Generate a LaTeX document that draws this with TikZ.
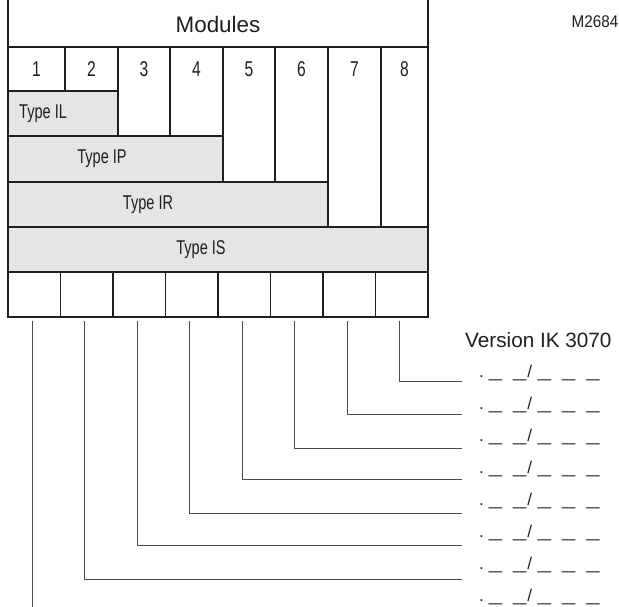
\documentclass[tikz,border=0pt]{standalone}
\usepackage{fontspec}
\setmainfont{Liberation Sans}
\usetikzlibrary{calc}

\tikzset{every node/.style={inner sep=0pt, text=inkcol}}
\tikzset{
  frame/.style={line width=1.9bp, draw=inkcol},
  cellline/.style={line width=1.5bp, draw=inkcol},
  cellbox/.style={draw=inkcol, line width=1.5bp, minimum width=52.5bp, minimum height=45bp},
  wire/.style={line width=1bp, draw=wirecol},
  codelabel/.style={anchor=base west, font=\fontsize{17}{19}\selectfont}
}
% Condensed type and blanks of the version code.
\newcommand{\cnd}[1]{\scalebox{0.73}[1]{#1}}
\newcommand{\blank}{\scalebox{1.4}[1]{\_}}
\newcommand{\versioncode}{.\hspace{5bp}\blank\hspace{11bp}\blank\hspace{1bp}/\hspace{6bp}\blank\hspace{11bp}\blank\hspace{11bp}\blank}

\begin{document}
\begin{tikzpicture}[x=1bp, y=-1bp]
  % Bounding box (original size).
  \path[use as bounding box] (0,0) rectangle (619,607);

  \colorlet{inkcol}{black!88}
  \colorlet{wirecol}{black!70}
  \colorlet{fillcol}{black!10}

  % Grey type bands.
  \fill[fillcol] (8,91) rectangle (118,136);
  \fill[fillcol] (8,136) rectangle (223,182);
  \fill[fillcol] (8,182) rectangle (328,227);
  \fill[fillcol] (8,227) rectangle (428,272);

  % Horizontal rules.
  \draw[cellline] (8,47) -- (428,47);
  \draw[cellline] (8,91) -- (118,91);
  \draw[cellline] (8,136) -- (223,136);
  \draw[cellline] (8,182) -- (328,182);
  \draw[cellline] (8,227) -- (428,227);
  \draw[cellline] (8,272) -- (428,272);

  % Module columns.
  \draw[cellline] (65,47) -- (65,91);
  \draw[cellline] (118,47) -- (118,136);
  \draw[cellline] (170,47) -- (170,136);
  \draw[cellline] (223,47) -- (223,182);
  \draw[cellline] (275,47) -- (275,182);
  \draw[cellline] (328,47) -- (328,227);
  \draw[cellline] (381,47) -- (381,227);

  % Bottom row of cells.
  \foreach \i in {1,...,8}
    \node[cellbox] (c\i) at ({8+52.5*(\i-0.5)},294.5) {};

  % Outer frame.
  \draw[frame] (8,0) -- (8,317) -- (428,317) -- (428,0);

  % Texts.
  \node[font=\fontsize{22.5}{24}\selectfont] (modules) at (218,24) {Modules};
  \node[font=\fontsize{17}{19}\selectfont] (ref) at (595,22) {\scalebox{0.9}[1]{M2684}};
  \foreach \n/\xx in {1/36.5,2/91.5,3/144,4/196.5,5/249,6/301.5,7/354.5,8/404.5}
    \node[font=\fontsize{21.5}{23}\selectfont] (m\n) at (\xx,69) {\cnd{\n}};
  \node[font=\fontsize{20}{22}\selectfont, anchor=west] (typeIL) at (19,113.5) {\cnd{Type IL}};
  \node[font=\fontsize{20}{22}\selectfont] (typeIP) at (102,159) {\cnd{Type IP}};
  \node[font=\fontsize{20}{22}\selectfont] (typeIR) at (148,204.5) {\cnd{Type IR}};
  \node[font=\fontsize{20}{22}\selectfont] (typeIS) at (201,249.5) {\cnd{Type IS}};
  \node[anchor=base west, font=\fontsize{20.8}{22}\selectfont] (version) at (465,347) {Version IK 3070};

  % Version code labels.
  \foreach \i in {1,...,8}
    \node[codelabel] (v\i) at (479,{377+32.14*(8-\i)}) {\versioncode};

  % Connectors from the cells.
  \foreach \i/\yy in {2/579,3/545,4/513,5/479,6/448,7/414,8/381} {
    \coordinate (e\i) at (462,\yy);
    \draw[wire] ($(c\i.south)+(-2,3)$) |- (e\i);
  }
  \coordinate (e1) at (c1.south |- 0,607);
  \draw[wire] ($(c1.south)+(-2,3)$) -- ($(e1)+(-2,0)$);

\end{tikzpicture}
\end{document}
